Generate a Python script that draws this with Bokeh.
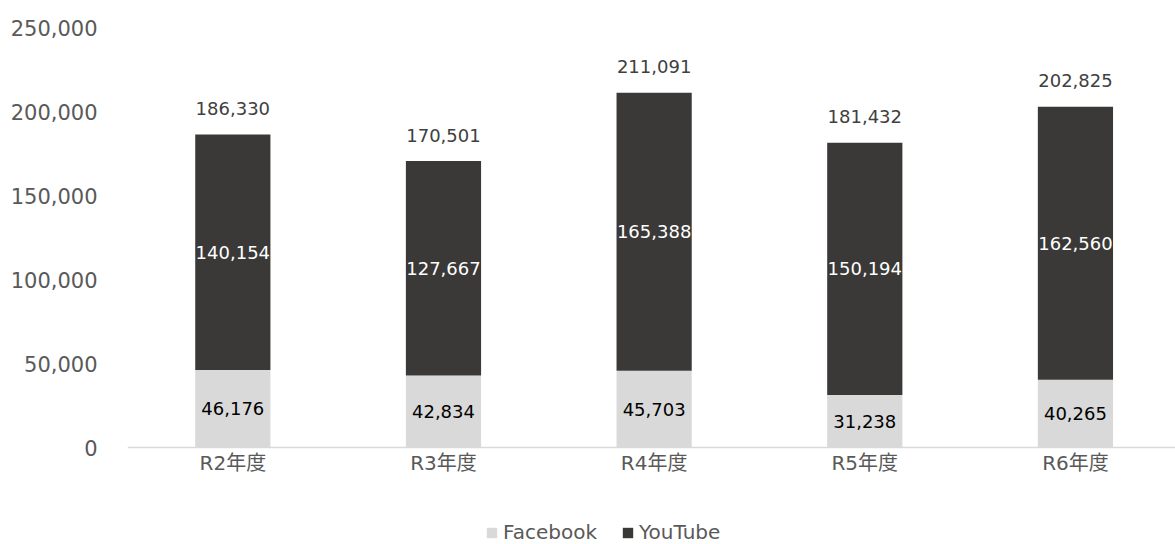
from bokeh.plotting import figure
from bokeh.models import ColumnDataSource, Legend, LegendItem, NumeralTickFormatter, FixedTicker, Range1d, Span
from bokeh.core.properties import value
from bokeh.embed import file_html
from bokeh.resources import INLINE

categories = ["R2年度", "R3年度", "R4年度", "R5年度", "R6年度"]
facebook = [46176, 42834, 45703, 31238, 40265]
youtube = [140154, 127667, 165388, 150194, 162560]
y_ticks = [0, 50000, 100000, 150000, 200000, 250000]

xs = list(range(len(categories)))
totals = [f + y for f, y in zip(facebook, youtube)]

src = ColumnDataSource(dict(
    x=xs,
    cat=categories,
    zero=[0] * len(xs),
    fb=facebook,
    yt=youtube,
    total=totals,
    fb_mid=[f / 2 for f in facebook],
    yt_mid=[f + y / 2 for f, y in zip(facebook, youtube)],
    fb_lbl=[f"{v:,}" for v in facebook],
    yt_lbl=[f"{v:,}" for v in youtube],
    tot_lbl=[f"{v:,}" for v in totals],
))

FONT = "DejaVu Sans, Noto Sans CJK JP"
FB_COLOR = "#d9d9d9"
YT_COLOR = "#3a3937"

# frame extends below zero to host category labels and legend
Y_MAX = 250000
Y_MIN = -Y_MAX * 97 / 420

p = figure(frame_width=1048, frame_height=517, output_backend="svg", toolbar_location=None,
           x_range=Range1d(-0.5, 4.475), y_range=Range1d(Y_MIN, Y_MAX),
           min_border_left=127, min_border_right=0, min_border_top=27, min_border_bottom=0)
p.outline_line_color = None
p.xgrid.visible = False
p.ygrid.visible = False
p.xaxis.visible = False

W = 0.357
r_fb = p.vbar(x="x", bottom=0, top="fb", width=W, source=src, fill_color=FB_COLOR, line_color=None)
r_yt = p.vbar(x="x", bottom="fb", top="total", width=W, source=src, fill_color=YT_COLOR, line_color=None)

# baseline (category axis line)
p.add_layout(Span(location=0, dimension="width", line_color="#d9d9d9", line_width=1.5))

# category labels
p.text(x="x", y="zero", text="cat", source=src, text_align="center", text_baseline="middle",
       y_offset=15, text_font=value(FONT), text_font_size="20px", text_color="#595959")

p.text(x="x", y="fb_mid", text="fb_lbl", source=src, text_align="center", text_baseline="middle",
       text_font=value(FONT), text_font_size="18px", text_color="#000000")
p.text(x="x", y="yt_mid", text="yt_lbl", source=src, text_align="center", text_baseline="middle",
       text_font=value(FONT), text_font_size="18px", text_color="#ffffff")
p.text(x="x", y="total", text="tot_lbl", source=src, text_align="center", text_baseline="middle",
       y_offset=-26, text_font=value(FONT), text_font_size="18px", text_color="#404040")

# y axis
p.yaxis.ticker = FixedTicker(ticks=y_ticks)
p.yaxis.formatter = NumeralTickFormatter(format="0,0")
p.yaxis.axis_line_color = None
p.yaxis.major_tick_line_color = None
p.yaxis.minor_tick_line_color = None
p.yaxis.major_label_standoff = 24
p.yaxis.major_label_text_font = FONT
p.yaxis.major_label_text_font_size = "21px"
p.yaxis.major_label_text_color = "#595959"

legend = Legend(items=[LegendItem(label="Facebook", renderers=[r_fb]),
                       LegendItem(label="YouTube", renderers=[r_yt])],
                orientation="horizontal", location=(358, 0),
                glyph_width=13, glyph_height=13, label_standoff=5, spacing=24,
                padding=0, margin=0, border_line_color=None, background_fill_alpha=0,
                label_text_font=FONT, label_text_font_size="20px", label_text_color="#595959")
p.add_layout(legend, "center")

open("out.html", "w").write(file_html(p, INLINE))
